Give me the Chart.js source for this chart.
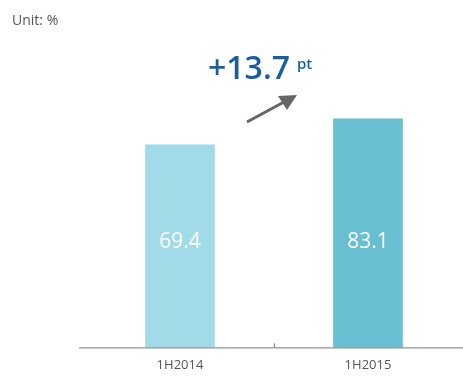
<!DOCTYPE html>
<html>
<head>
<meta charset="utf-8">
<script src="https://cdn.jsdelivr.net/npm/chart.js@4/dist/chart.umd.min.js"></script>
<style>
  html, body { margin: 0; padding: 0; background: #fff; }
  #wrap { width: 463px; height: 379px; position: relative; }
</style>
</head>
<body>
<div id="wrap"><canvas id="myChart"></canvas></div>
<script>
'use strict';

// chart data
var periods = ['1H2014', '1H2015'];
var ratios = [69.4, 83.1];
var barColors = ['#a1dbe8', '#67bfd1'];
var unitText = 'Unit: %';
var changeText = '+13.7';
var changeUnit = 'pt';
var axisMin = -37;
var axisMax = 135;

var fontName = '"Open Sans", "Noto Sans", sans-serif';

// draws value labels, unit note, change note and arrow
var extrasPlugin = {
  id: 'extras',
  afterDatasetsDraw: function (chart) {
    var ctx = chart.ctx;
    var area = chart.chartArea;
    var meta = chart.getDatasetMeta(0);
    ctx.save();

    // value labels inside bars
    ctx.fillStyle = '#ffffff';
    ctx.font = '21px ' + fontName;
    ctx.textAlign = 'center';
    ctx.textBaseline = 'middle';
    for (var i = 0; i < meta.data.length; i++) {
      ctx.fillText(ratios[i].toFixed(1), meta.data[i].x, 242);
    }

    // axis line and middle tick
    ctx.strokeStyle = '#777777';
    ctx.lineWidth = 1;
    ctx.beginPath();
    ctx.moveTo(79, area.bottom + 0.5);
    ctx.lineTo(463, area.bottom + 0.5);
    var midX = Math.round((meta.data[0].x + meta.data[1].x) / 2) + 0.5;
    ctx.moveTo(midX, area.bottom - 4);
    ctx.lineTo(midX, area.bottom);
    ctx.stroke();

    // unit note
    ctx.fillStyle = '#555555';
    ctx.font = '14px ' + fontName;
    ctx.textAlign = 'left';
    ctx.textBaseline = 'alphabetic';
    ctx.fillText(unitText, 12, 25);

    // change note
    ctx.fillStyle = '#1b5e9f';
    ctx.font = '600 32px ' + fontName;
    ctx.fillText(changeText, 208, 79);
    ctx.font = '600 15px ' + fontName;
    ctx.fillText(changeUnit, 297, 69);

    // arrow
    ctx.strokeStyle = '#666666';
    ctx.fillStyle = '#666666';
    ctx.lineWidth = 3;
    ctx.beginPath();
    ctx.moveTo(247, 122);
    ctx.lineTo(284, 102);
    ctx.stroke();
    ctx.beginPath();
    ctx.moveTo(297, 95);
    ctx.lineTo(278, 96);
    ctx.lineTo(287, 110);
    ctx.closePath();
    ctx.fill();

    ctx.restore();
  }
};

var ctx = document.getElementById('myChart').getContext('2d');
var chart = new Chart(ctx, {
  type: 'bar',
  data: {
    labels: periods,
    datasets: [
      {
        label: 'ratio',
        data: ratios,
        base: axisMin,
        backgroundColor: barColors,
        borderWidth: 0,
        barThickness: 69,
      },
    ],
  },
  options: {
    responsive: true,
    maintainAspectRatio: false,
    animation: false,
    layout: { padding: { left: 86, right: 1, top: 20, bottom: 4 } },
    plugins: {
      legend: { display: false },
      tooltip: { enabled: false },
    },
    scales: {
      x: {
        grid: { display: false },
        border: { display: false },
        ticks: {
          color: '#555555',
          font: { family: fontName, size: 13 },
          padding: 2,
        },
      },
      y: {
        display: false,
        min: axisMin,
        max: axisMax,
      },
    },
  },
  plugins: [extrasPlugin],
});
</script>
</body>
</html>
